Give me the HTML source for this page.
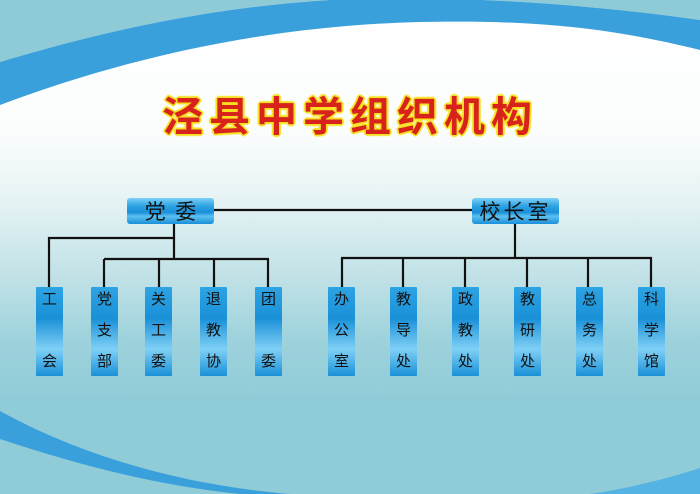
<!DOCTYPE html>
<html><head><meta charset="utf-8"><style>
html,body{margin:0;padding:0}
body{width:700px;height:494px;overflow:hidden;position:relative;font-family:"Liberation Sans","Noto Sans CJK SC",sans-serif}
.bg{position:absolute;inset:0;background:linear-gradient(180deg,#ffffff 0px,#fbfdfd 130px,#e6f3f4 200px,#bfe1e6 280px,#9dd2dc 340px,#90ccd8 400px,#90ccd8 494px)}
.t{position:absolute;left:0;width:700px;top:86px;text-align:center;font-size:41px;line-height:54px;font-weight:bold;color:#d8231c;letter-spacing:6px;font-family:"Noto Sans CJK SC","WenQuanYi Zen Hei",sans-serif;
text-shadow:-1px -1px 0 #f7e020,1px -1px 0 #f7e020,-1px 1px 0 #f7e020,1px 1px 0 #f7e020,0 2px 1px #f7e020,2px 0 1px #f7e020,-2px 0 1px #f7e020,0 -2px 1px #f7e020}
.h{position:absolute;height:26px;border-radius:3px;background:linear-gradient(180deg,#7fd0f5 0%,#2ea4e4 30%,#1a8fd8 55%,#5cc0f0 70%,#1a8fd8 100%);font-size:21px;color:#111;text-align:center;line-height:26px;font-family:"Noto Sans CJK SC",sans-serif}
.v{position:absolute;top:287px;width:27px;height:89px;background:linear-gradient(180deg,#2ea4e4 0%,#1a90d8 35%,#7fd0f5 70%,#1a90d8 100%);font-size:15px;color:#111;text-align:center;font-family:"Noto Sans CJK SC",sans-serif;border-radius:1px}
.v span{position:absolute;left:0;width:27px;line-height:20px}
</style></head><body>
<div class="bg"></div>
<svg style="position:absolute;left:0;top:0" width="700" height="494">
<path d="M0 0 H700 V20 C560 0 420 -5 330 0 C200 8 90 35 0 62 Z" fill="#8ecbd6"/>
<path d="M0 62 C90 35 200 8 330 0 C420 -5 560 0 700 20 V50 C600 25 520 20 420 22 C260 26 120 60 0 105 Z" fill="#3aa0dc"/>
<path d="M0 411 C80 455 180 485 290 494 H240 C150 485 70 462 0 439 Z" fill="#3aa0dc"/>
<path d="M590 494 C630 488 670 478 700 468 V494 Z" fill="#55b3e4"/>
<g stroke="#111" stroke-width="2.2" fill="none">
<line x1="214" y1="210" x2="472" y2="210"/>
<line x1="174" y1="224" x2="174" y2="259"/>
<polyline points="49,288 49,238 174,238"/>
<line x1="104" y1="259" x2="269" y2="259"/>
<line x1="104" y1="259" x2="104" y2="288"/>
<line x1="159" y1="259" x2="159" y2="288"/>
<line x1="214" y1="259" x2="214" y2="288"/>
<line x1="268" y1="259" x2="268" y2="288"/>
<line x1="515" y1="224" x2="515" y2="258"/>
<line x1="341" y1="258" x2="652" y2="258"/>
<line x1="342" y1="258" x2="342" y2="288"/>
<line x1="403" y1="258" x2="403" y2="288"/>
<line x1="465" y1="258" x2="465" y2="288"/>
<line x1="527" y1="258" x2="527" y2="288"/>
<line x1="588" y1="258" x2="588" y2="288"/>
<line x1="651" y1="258" x2="651" y2="288"/>
</g>
</svg>
<div class="t">泾县中学组织机构</div>
<div class="h" style="left:127px;top:198px;width:87px">党&nbsp;&nbsp;委</div>
<div class="h" style="left:472px;top:198px;width:87px;letter-spacing:3px">校长室</div>
<div class="v" style="left:36px"><span style="top:2px">工</span><span style="top:64px">会</span></div>
<div class="v" style="left:91px"><span style="top:2px">党</span><span style="top:33px">支</span><span style="top:64px">部</span></div>
<div class="v" style="left:145px"><span style="top:2px">关</span><span style="top:33px">工</span><span style="top:64px">委</span></div>
<div class="v" style="left:200px"><span style="top:2px">退</span><span style="top:33px">教</span><span style="top:64px">协</span></div>
<div class="v" style="left:255px"><span style="top:2px">团</span><span style="top:64px">委</span></div>
<div class="v" style="left:328px"><span style="top:2px">办</span><span style="top:33px">公</span><span style="top:64px">室</span></div>
<div class="v" style="left:390px"><span style="top:2px">教</span><span style="top:33px">导</span><span style="top:64px">处</span></div>
<div class="v" style="left:452px"><span style="top:2px">政</span><span style="top:33px">教</span><span style="top:64px">处</span></div>
<div class="v" style="left:514px"><span style="top:2px">教</span><span style="top:33px">研</span><span style="top:64px">处</span></div>
<div class="v" style="left:576px"><span style="top:2px">总</span><span style="top:33px">务</span><span style="top:64px">处</span></div>
<div class="v" style="left:638px"><span style="top:2px">科</span><span style="top:33px">学</span><span style="top:64px">馆</span></div>
</body></html>
